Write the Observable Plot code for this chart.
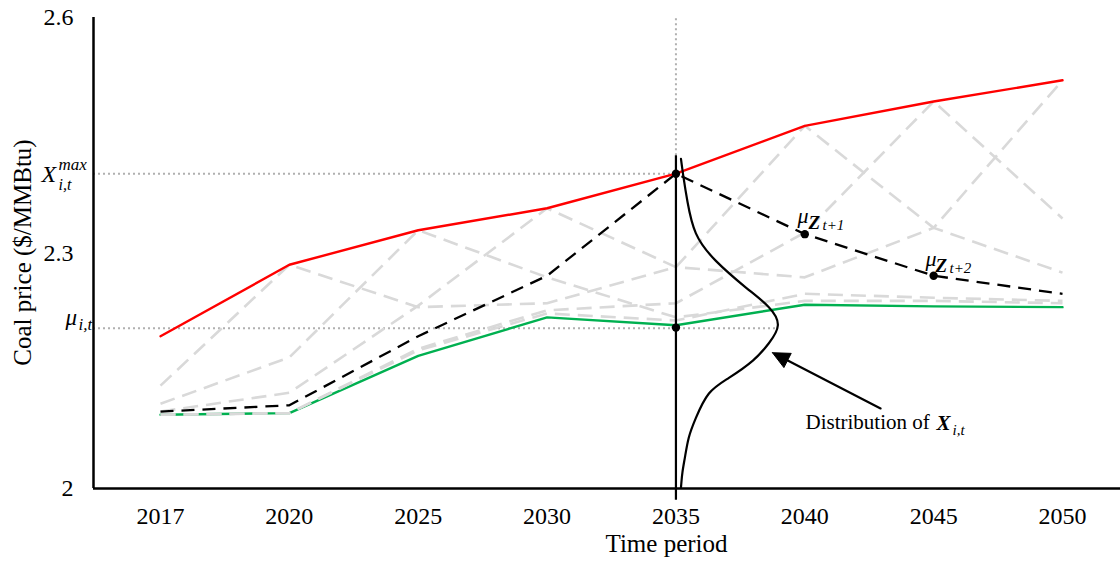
<!DOCTYPE html>
<html><head><meta charset="utf-8">
<script src="https://cdn.jsdelivr.net/npm/d3@7"></script>
<script src="https://cdn.jsdelivr.net/npm/@observablehq/plot@0.6"></script>
<style>body{margin:0;background:#fff;}</style>
</head><body><div id="chart"></div>
<script>
// ---- data ----
const years = ["2017","2020","2025","2030","2035","2040","2045","2050"];
const yTicks = [2, 2.3, 2.6];
const redSeries   = [2.194, 2.285, 2.329, 2.357, 2.401, 2.462, 2.493, 2.520];
const greenSeries = [2.094, 2.096, 2.169, 2.218, 2.208, 2.234, 2.232, 2.231];
const blackSeries = [2.098, 2.106, 2.194, 2.271, 2.401, 2.324, 2.271, 2.248];
const gray1 = [2.131, 2.285, 2.231, 2.236, 2.282, 2.462, 2.332, 2.520];
const gray2 = [2.108, 2.167, 2.329, 2.269, 2.218, 2.239, 2.239, 2.236];
const gray3 = [2.098, 2.122, 2.233, 2.357, 2.282, 2.269, 2.332, 2.275];
const gray4 = [2.094, 2.096, 2.178, 2.227, 2.236, 2.326, 2.493, 2.344];
const gray5 = [2.094, 2.096, 2.176, 2.223, 2.214, 2.248, 2.243, 2.239];
// highlighted points: [period index, price]
const dotIdx   = [4, 4, 5, 6];
const dotPrice = [2.401, 2.205, 2.324, 2.271];
// distribution of X_{i,t} around 2035: offset (periods) and price
const curveDx    = [0.039, 0.060, 0.090, 0.155, 0.310, 0.543, 0.721, 0.791, 0.721, 0.597, 0.411, 0.256, 0.155, 0.100, 0.070, 0.050, 0.039];
const curvePrice = [2.420, 2.395, 2.365, 2.325, 2.290, 2.256, 2.231, 2.208, 2.185, 2.163, 2.141, 2.121, 2.090, 2.065, 2.040, 2.020, 2.001];
const xMaxLevel = 2.401, muLevel = 2.204, focusIdx = 4;
const arrowFrom = [5.588, 2.102], arrowTo = [4.749, 2.173];

// ---- scales ----
const X0 = -0.52, X1 = 7.45, Y0 = 2, Y1 = 2.6;
const L = 93, R = 1120, T = 17, B = 488;
const sx = v => L + (v - X0) / (X1 - X0) * (R - L);
const sy = v => B - (v - Y0) / (Y1 - Y0) * (B - T);
const ix = p => X0 + (p - L) / (R - L) * (X1 - X0);
const iy = p => Y0 + (B - p) / (B - T) * (Y1 - Y0);

const toRows = s => s.map((v, i) => ({i, v}));
const grayData = [gray1, gray2, gray3, gray4, gray5].flatMap((s, k) => s.map((v, i) => ({i, v, k})));
const dots = dotIdx.map((d, j) => ({x: d, y: dotPrice[j]}));
const curveData = curveDx.map((d, j) => ({x: focusIdx + d, y: curvePrice[j]}));

// arrow head triangle computed in pixel space
const tx = sx(arrowTo[0]), ty = sy(arrowTo[1]);
const fx = sx(arrowFrom[0]), fy = sy(arrowFrom[1]);
const len = Math.hypot(tx - fx, ty - fy), ux = (tx - fx) / len, uy = (ty - fy) / len;
const hl = 17, hw = 8;
const bx = tx - ux * hl, by = ty - uy * hl;
const head = [[tx, ty], [bx - uy * hw, by + ux * hw], [bx + uy * hw, by - ux * hw], [tx, ty]].map(([a, b]) => ({x: ix(a), y: iy(b)}));
const shaft = [{x: arrowFrom[0], y: arrowFrom[1]}, {x: ix(bx + ux * 2), y: iy(by + uy * 2)}];

const serif = "Liberation Serif, Times New Roman, serif";
const mathT = (txt, x, y, size, opts = {}) => Plot.text([txt], {x: () => x, y: () => y, text: d => d, fontSize: size, fontStyle: "italic", textAnchor: "start", lineAnchor: "bottom", fill: "black", fontFamily: serif, ...opts});

const chart = Plot.plot({
  width: 1120, height: 561,
  marginLeft: L, marginRight: 0, marginTop: T, marginBottom: 561 - B,
  style: {fontFamily: serif, fontSize: "24px", background: "white", color: "black"},
  x: {domain: [X0, X1], ticks: years.map((_, i) => i), tickFormat: i => years[i], tickSize: 0, tickPadding: 18, label: null},
  y: {domain: [Y0, Y1], ticks: yTicks, tickFormat: d => String(d), tickSize: 0, tickPadding: 20, label: null},
  marks: [
    // dotted guide lines
    Plot.ruleY([xMaxLevel], {x1: X0, x2: focusIdx, stroke: "#b0b0b0", strokeWidth: 2, strokeDasharray: "2,3"}),
    Plot.ruleY([muLevel], {x1: X0, x2: focusIdx + d3.max(curveDx), stroke: "#b0b0b0", strokeWidth: 2, strokeDasharray: "2,3"}),
    Plot.ruleX([focusIdx], {y1: d3.max(curvePrice) + 0.004, y2: Y1, stroke: "#b0b0b0", strokeWidth: 2, strokeDasharray: "2,3"}),
    // series
    Plot.line(toRows(greenSeries), {x: "i", y: "v", stroke: "#00b050", strokeWidth: 2.4}),
    Plot.line(grayData, {x: "i", y: "v", z: "k", stroke: "#d9d9d9", strokeWidth: 2.6, strokeDasharray: "15,8", strokeLinecap: "butt"}),
    Plot.line(toRows(blackSeries), {x: "i", y: "v", stroke: "black", strokeWidth: 2.3, strokeDasharray: "13,8", strokeLinecap: "butt"}),
    Plot.line(toRows(redSeries), {x: "i", y: "v", stroke: "#ff0000", strokeWidth: 2.4}),
    // vertical line at focus period and distribution
    Plot.ruleX([focusIdx], {y1: 1.985, y2: d3.max(curvePrice) + 0.004, stroke: "black", strokeWidth: 2.2}),
    Plot.line(curveData, {x: "x", y: "y", curve: "natural", stroke: "black", strokeWidth: 2.2}),
    Plot.dot(dots, {x: "x", y: "y", r: 4.2, fill: "black"}),
    // arrow
    Plot.line(shaft, {x: "x", y: "y", stroke: "black", strokeWidth: 2.2}),
    Plot.line(head, {x: "x", y: "y", stroke: "black", fill: "black", strokeWidth: 1}),
    // axes lines
    Plot.ruleX([X0], {y1: Y0, y2: Y1, stroke: "black", strokeWidth: 2.5}),
    Plot.ruleY([Y0], {x1: X0, x2: X1, stroke: "black", strokeWidth: 2.5}),
    // axis titles
    Plot.text(["Coal price ($/MMBtu)"], {x: () => ix(22), y: () => iy(252), rotate: -90, fontSize: 25, fontFamily: serif, fill: "black"}),
    Plot.text(["Time period"], {x: () => ix(666), y: () => iy(543), fontSize: 25, fontFamily: serif, fill: "black"}),
    // annotations
    mathT("X", ix(41), iy(181), 24),
    mathT("max", ix(58), iy(169), 17),
    mathT("i,t", ix(58), iy(189), 16),
    mathT("μ", ix(65), iy(324), 23),
    mathT("i,t", ix(78), iy(329), 17),
    mathT("μ", ix(797), iy(222), 22),
    mathT("Z", ix(808), iy(228), 19, {fontWeight: "bold"}),
    mathT("t+1", ix(822), iy(229), 15),
    mathT("μ", ix(925), iy(265), 22),
    mathT("Z", ix(935), iy(271), 19, {fontWeight: "bold"}),
    mathT("t+2", ix(949), iy(272), 15),
    mathT("Distribution of", ix(805), iy(428), 21, {fontStyle: "normal"}),
    mathT("X", ix(936), iy(429), 21, {fontWeight: "bold"}),
    mathT("i,t", ix(952), iy(434), 15)
  ]
});
document.getElementById("chart").appendChild(chart);
</script></body></html>
